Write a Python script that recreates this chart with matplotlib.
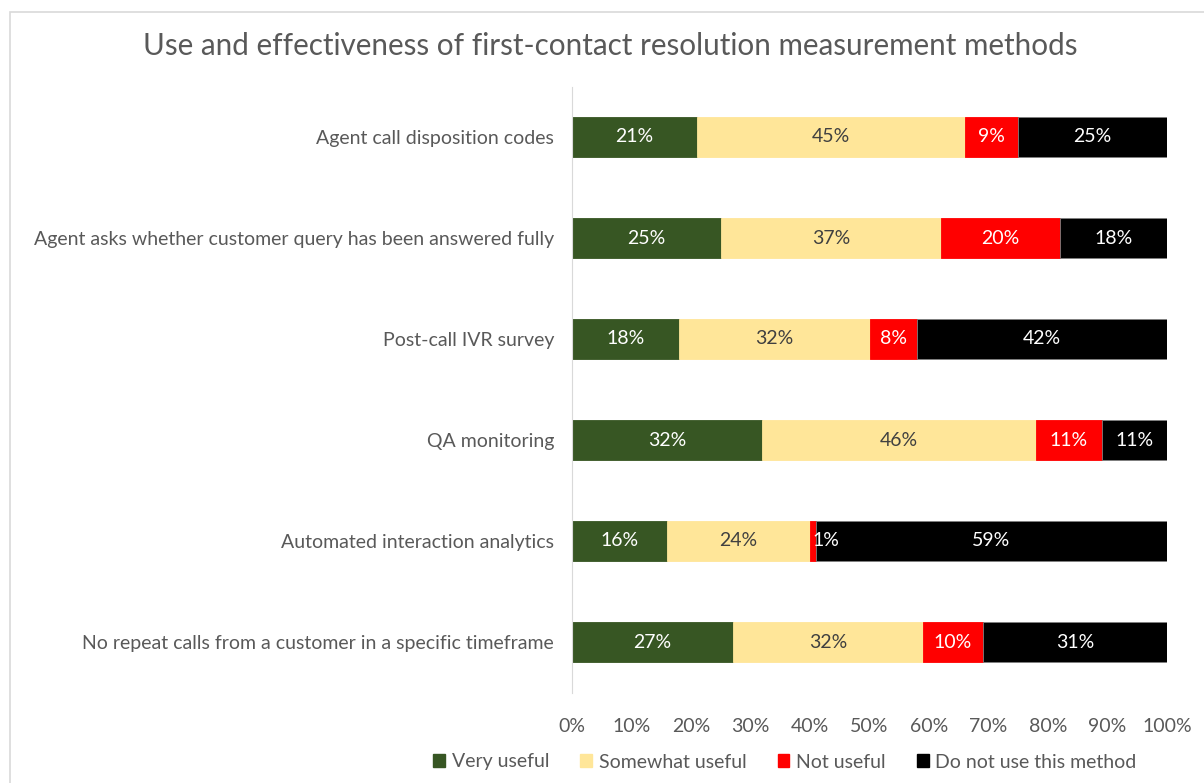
import matplotlib
matplotlib.use("Agg")
import matplotlib.pyplot as plt
from matplotlib.patches import Rectangle, Patch
import numpy as np

plt.rcParams['font.family'] = ['Lato', 'DejaVu Sans']

categories = [
    "Agent call disposition codes",
    "Agent asks whether customer query has been answered fully",
    "Post-call IVR survey",
    "QA monitoring",
    "Automated interaction analytics",
    "No repeat calls from a customer in a specific timeframe",
]
series_names = ["Very useful", "Somewhat useful", "Not useful", "Do not use this method"]
very_useful = [21, 25, 18, 32, 16, 27]
somewhat_useful = [45, 37, 32, 46, 24, 32]
not_useful = [9, 20, 8, 11, 1, 10]
do_not_use = [25, 18, 42, 11, 59, 31]
x_ticks = [0, 10, 20, 30, 40, 50, 60, 70, 80, 90, 100]

colors = ["#375623", "#FFE699", "#FF0000", "#000000"]
label_colors = ["white", "#404040", "white", "white"]
gray = "#595959"
fs = 14

fig = plt.figure(figsize=(12.04, 7.83), dpi=100)
fig.patches.append(Rectangle((10/1204, -0.05), 1.2, 1 - 12/783 + 0.05, transform=fig.transFigure,
                             fill=False, edgecolor="#D9D9D9", linewidth=1.2))
ax = fig.add_axes([572/1204, 1 - 692.5/783, 595/1204, 606/783])

data = [very_useful, somewhat_useful, not_useful, do_not_use]
y = np.arange(len(categories))
left = np.zeros(len(categories))
for vals, col, lc, name in zip(data, colors, label_colors, series_names):
    vals = np.array(vals, dtype=float)
    ax.barh(y, vals, left=left, height=0.4, color=col, label=name,
            edgecolor="#7F7F7F" if col == "#000000" else col, linewidth=0.6)
    for yi, l, v in zip(y, left, vals):
        ax.text(l + v / 2 if v > 2 else l + v + 1.6, yi, f"{int(v)}%", ha="center", va="center",
                color=lc, fontsize=fs)
    left += vals

ax.set_ylim(len(categories) - 0.5, -0.5)
ax.set_xlim(0, 100)
ax.set_yticks(y)
ax.set_yticklabels(categories, fontsize=fs, color=gray)
ax.set_xticks(x_ticks)
ax.set_xticklabels([f"{t}%" for t in x_ticks], fontsize=fs, color=gray)
ax.tick_params(axis="both", length=0)
ax.tick_params(axis="x", pad=18)
ax.tick_params(axis="y", pad=13)
for s in ["top", "right", "bottom"]:
    ax.spines[s].set_visible(False)
ax.spines["left"].set_color("#D9D9D9")

fig.text(610/1204, 1 - 46/783, "Use and effectiveness of first-contact resolution measurement methods",
         ha="center", va="center", fontsize=21.3, color=gray)

handles = [Patch(facecolor=c, edgecolor=c) for c in colors]
fig.legend(handles, series_names, loc="center", bbox_to_anchor=(785/1204, 1 - 762/783), ncol=4,
           frameon=False, fontsize=fs, labelcolor=gray, handlelength=0.6, handleheight=0.6,
           handletextpad=0.35, columnspacing=1.6)

fig.savefig("out.png", dpi=100)
